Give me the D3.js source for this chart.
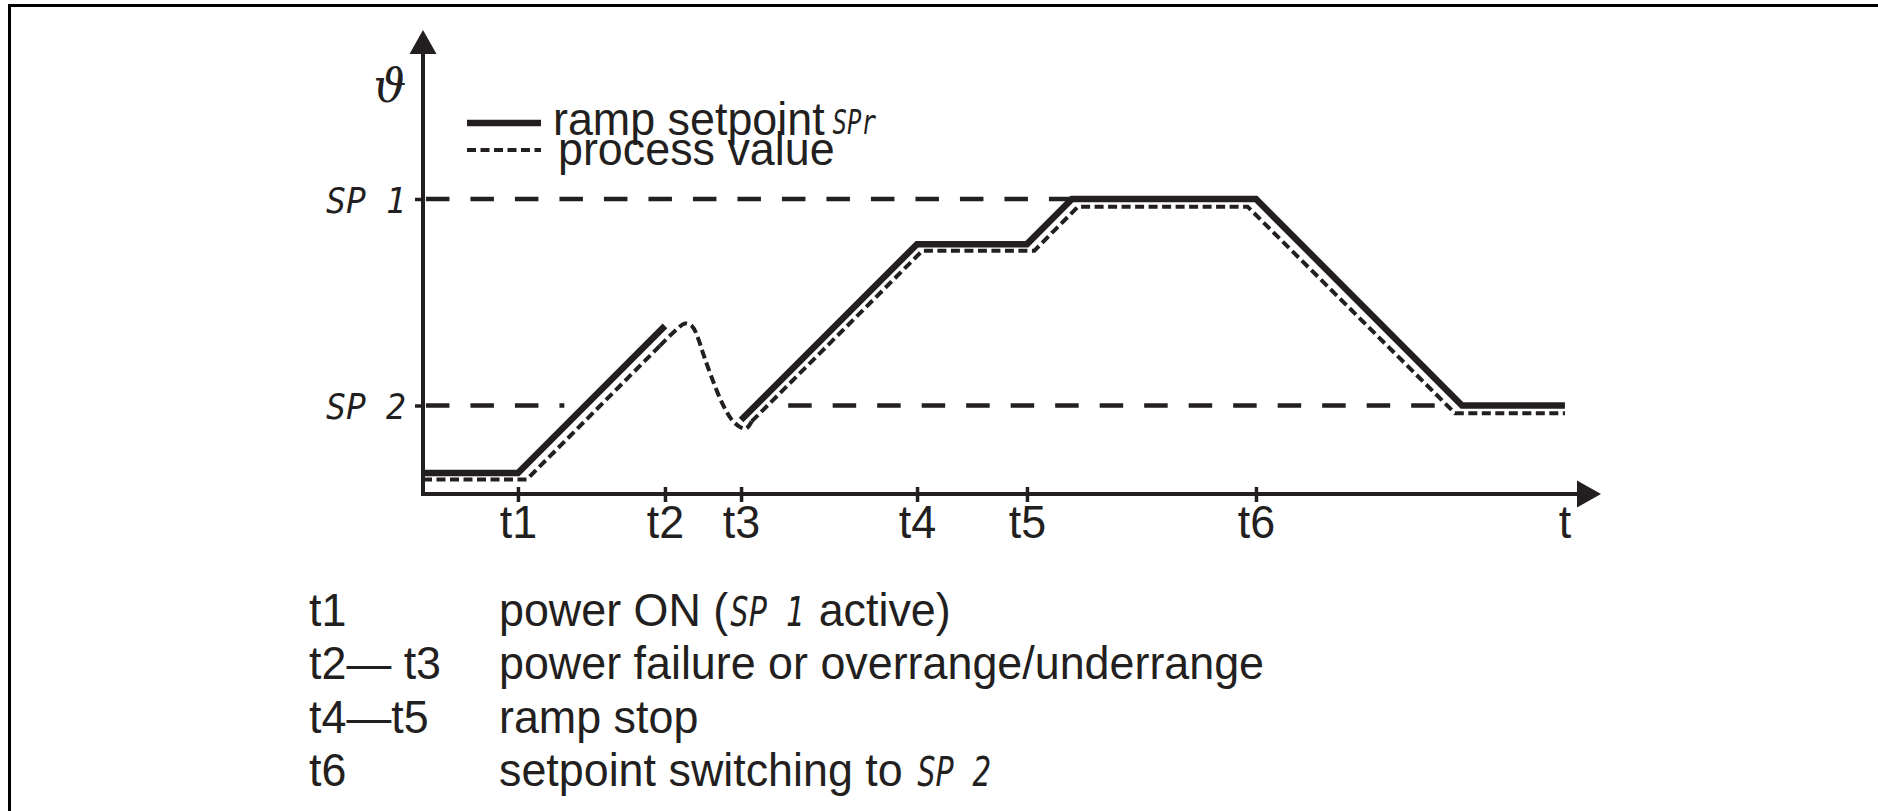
<!DOCTYPE html>
<html>
<head>
<meta charset="utf-8">
<script src="https://cdn.jsdelivr.net/npm/d3@7"></script>
<style>
  html, body { margin: 0; padding: 0; background: #fff; }
  svg { display: block; }
  text { white-space: pre; }
</style>
</head>
<body>
<svg id="chart" width="1878" height="811"></svg>
<script>
// ---- data ---------------------------------------------------------------
// time marks on the t axis (arbitrary time units, 0..100)
const tickNames = ["t1", "t2", "t3", "t4", "t5", "t6"];
const tickTimes = [8.06, 20.54, 27.0, 41.94, 51.27, 70.71];

// setpoint levels (arbitrary temperature units, 0..100)
const spNames = ["SP 2", "SP 1"];
const spValues = [30, 100];

// dashed reference lines for the setpoints, drawn in pieces
const refLevels = [100, 30, 30];
const refFrom = [0.25, 0.25, 31.0];
const refTo = [55.1, 12.0, 86.3];

// ramp setpoint SPr: interrupted between t2 and t3
const rampATimes = [0, 8.06, 20.54];
const rampAValues = [7.1, 7.1, 57.0];
const rampBTimes = [27.0, 41.94, 51.27, 55.09, 70.71, 88.2, 96.94];
const rampBValues = [25.1, 84.7, 84.7, 100, 100, 30, 30];

// process value: follows the ramp, overshoots and dips during the failure
const pvRiseTimes = [0, 8.8, 20.1];
const pvRiseValues = [4.9, 4.9, 50.2];
const pvDipTimes = [20.1, 21.56, 22.24, 22.84, 23.34, 23.85, 24.62, 25.47, 26.23, 26.91, 27.42, 27.9];
const pvDipValues = [50.2, 55.9, 57.8, 56.9, 52.9, 46.8, 38.3, 30.2, 25.1, 22.7, 22.2, 24.6];
const pvFollowTimes = [27.9, 42.4, 51.9, 55.6, 70.0, 87.6, 96.94];
const pvFollowValues = [24.6, 82.5, 82.5, 97.4, 97.4, 27.4, 27.4];

// explanation rows below the chart
const noteKeys = ["t1", "t2\u2014 t3", "t4\u2014t5", "t6"];
const noteTexts = [
  [["power ON (", 0], ["SP 1", 1], [" active)", 0]],
  [["power failure or overrange/underrange", 0]],
  [["ramp stop", 0]],
  [["setpoint switching to ", 0], ["SP 2", 1]]
];

// ---- drawing ------------------------------------------------------------
const W = 1878, H = 811;
const ink = "#231f20";
const SANS = "'Liberation Sans', Arial, Helvetica, sans-serif";
const SANS_SIZE = 46, SANS_SX = 0.975;
const svg = d3.select("#chart");

const x = d3.scaleLinear().domain([0, 100]).range([423, 1601]);
const y = d3.scaleLinear().domain([0, 100]).range([494, 199]);
const yTopPx = 30;

function sansText(parent, str, px, py, anchor) {
  return parent.append("text")
    .attr("transform", `translate(${px},${py}) scale(${SANS_SX},1)`)
    .attr("font-family", SANS)
    .attr("font-size", SANS_SIZE)
    .attr("fill", ink)
    .attr("text-anchor", anchor || "start")
    .text(str);
}
// segment-display style lettering (slanted, monospaced)
function segText(parent, str, px, py, pitch, capH, anchor) {
  const fs = pitch / 0.602;
  const sy = capH / (0.729 * fs);
  return parent.append("text")
    .attr("transform", `translate(${px},${py}) scale(1,${sy})`)
    .attr("font-family", "'DejaVu Sans Mono', monospace")
    .attr("font-style", "oblique")
    .attr("font-size", fs)
    .attr("fill", ink)
    .attr("text-anchor", anchor || "start")
    .text(str);
}

// frame
svg.append("path")
  .attr("d", `M9.5,${H} V5.5 H${W}`)
  .attr("fill", "none").attr("stroke", "#000").attr("stroke-width", 3);

// setpoint reference lines
svg.append("g").selectAll("line")
  .data(refLevels.map((v, i) => ({ v, a: refFrom[i], b: refTo[i] })))
  .join("line")
  .attr("x1", d => x(d.a)).attr("x2", d => x(d.b))
  .attr("y1", d => y(d.v)).attr("y2", d => y(d.v))
  .attr("stroke", ink).attr("stroke-width", 4.5)
  .attr("stroke-dasharray", "23.5 21");

// axes
const axisG = svg.append("g");
axisG.append("line")
  .attr("x1", x(0) - 2).attr("x2", x(100) - 22)
  .attr("y1", y(0)).attr("y2", y(0))
  .attr("stroke", ink).attr("stroke-width", 4);
axisG.append("path")
  .attr("d", `M${x(100)},${y(0)} L${x(100) - 24},${y(0) - 13.5} L${x(100) - 24},${y(0) + 13.5} Z`)
  .attr("fill", ink);
axisG.append("line")
  .attr("x1", x(0)).attr("x2", x(0))
  .attr("y1", y(0) + 2).attr("y2", yTopPx + 22)
  .attr("stroke", ink).attr("stroke-width", 4);
axisG.append("path")
  .attr("d", `M${x(0)},${yTopPx} L${x(0) - 13.5},${yTopPx + 24} L${x(0) + 13.5},${yTopPx + 24} Z`)
  .attr("fill", ink);

// t axis ticks and labels
const xAxis = d3.axisBottom(x)
  .tickValues(tickTimes)
  .tickFormat((d, i) => tickNames[i])
  .tickSize(8).tickSizeOuter(0);
const xg = svg.append("g").attr("transform", `translate(0,${y(0)})`).call(xAxis);
xg.select(".domain").remove();
xg.selectAll(".tick line").attr("y1", -7).attr("stroke", ink).attr("stroke-width", 3.5);
xg.selectAll(".tick text")
  .attr("y", 44).attr("dy", 0)
  .attr("transform", `scale(${SANS_SX},1)`)
  .attr("font-family", SANS).attr("font-size", SANS_SIZE).attr("fill", ink);
sansText(svg, "t", x(96.94), y(0) + 44, "middle");

// setpoint ticks and labels on the vertical axis
const yAxis = d3.axisLeft(y)
  .tickValues(spValues)
  .tickFormat(() => "")
  .tickSize(8).tickSizeOuter(0);
const yg = svg.append("g").attr("transform", `translate(${x(0)},0)`).call(yAxis);
yg.select(".domain").remove();
yg.selectAll(".tick line").attr("stroke", ink).attr("stroke-width", 3.5);
yg.selectAll(".tick").each(function (d, i) {
  segText(d3.select(this), spNames[i], -17, 13, 20, 26, "end");
});

// axis symbol
svg.append("text")
  .attr("x", x(0) - 33).attr("y", 102)
  .attr("text-anchor", "middle")
  .attr("font-family", "'DejaVu Serif', 'Liberation Serif', serif")
  .attr("font-style", "italic")
  .attr("font-size", 46)
  .attr("fill", ink)
  .text("\u03d1");

// curves
const line = d3.line().x(d => x(d[0])).y(d => y(d[1]));
const smooth = d3.line().x(d => x(d[0])).y(d => y(d[1])).curve(d3.curveCatmullRom.alpha(0.5));
const zip = (a, b) => a.map((v, i) => [v, b[i]]);

const pvG = svg.append("g")
  .attr("fill", "none").attr("stroke", ink).attr("stroke-width", 4)
  .attr("stroke-dasharray", "9 4.5");
pvG.append("path").attr("d", line(zip(pvRiseTimes, pvRiseValues)));
pvG.append("path").attr("d", smooth(zip(pvDipTimes, pvDipValues)));
pvG.append("path").attr("d", line(zip(pvFollowTimes, pvFollowValues)));

const rampG = svg.append("g")
  .attr("fill", "none").attr("stroke", ink).attr("stroke-width", 6.5)
  .attr("stroke-linejoin", "miter").attr("stroke-linecap", "butt");
rampG.append("path").attr("d", line(zip(rampATimes, rampAValues)));
rampG.append("path").attr("d", line(zip(rampBTimes, rampBValues)));

// legend
const lg = svg.append("g");
lg.append("line").attr("x1", 467).attr("x2", 541).attr("y1", 123).attr("y2", 123)
  .attr("stroke", ink).attr("stroke-width", 6.5);
lg.append("line").attr("x1", 467).attr("x2", 541).attr("y1", 150).attr("y2", 150)
  .attr("stroke", ink).attr("stroke-width", 4).attr("stroke-dasharray", "9 4.5");
const rs = sansText(lg, "ramp setpoint", 553, 135);
const rsW = rs.node().getComputedTextLength() * SANS_SX;
segText(lg, "SPr", 553 + rsW + 8, 134, 14.5, 25);
sansText(lg, "process value", 558, 165);

// explanation rows
const notes = svg.append("g");
noteKeys.forEach((k, i) => {
  const base = 626 + i * 53.3;
  sansText(notes, k, 309, base);
  let cx = 499;
  noteTexts[i].forEach(([str, seg]) => {
    if (seg) {
      cx += 2;
      segText(notes, str, cx, base, 18.5, 30);
      cx += str.length * 18.5 + 2;
    } else {
      const t = sansText(notes, str, cx, base);
      cx += t.node().getComputedTextLength() * SANS_SX;
    }
  });
});
</script>
</body>
</html>
